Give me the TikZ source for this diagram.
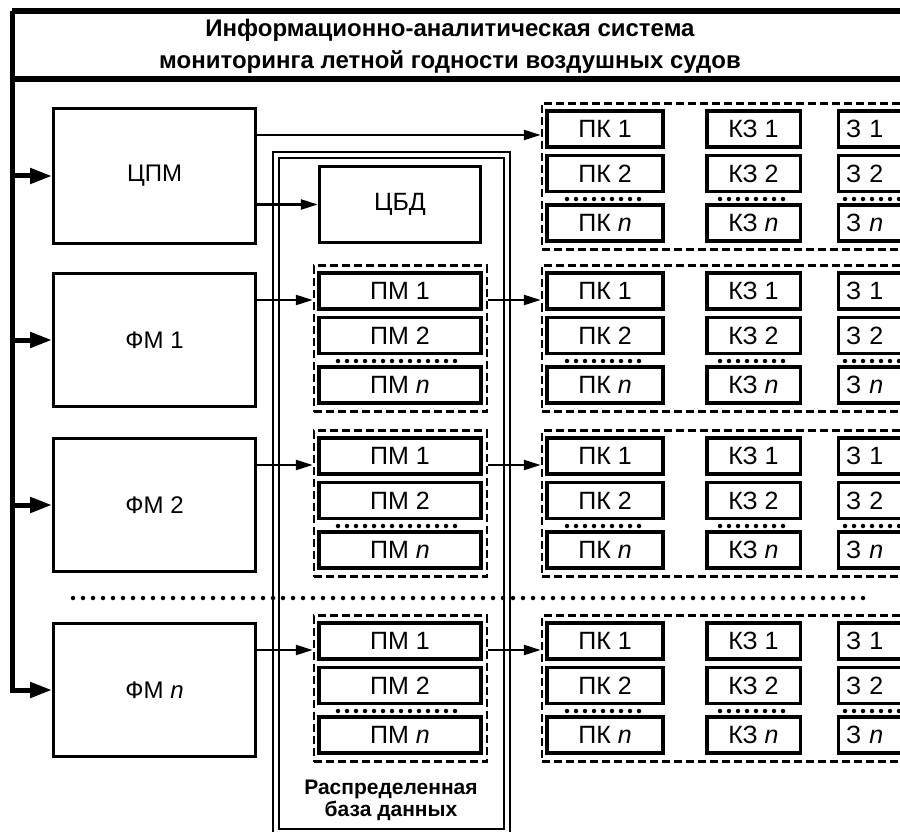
\documentclass[tikz,border=0pt]{standalone}
\usepackage{fontspec}
\setmainfont{Liberation Sans}
\usetikzlibrary{arrows.meta, positioning, calc}

\begin{document}
\begin{tikzpicture}[x=1pt, y=-1pt,
  module/.style={rectangle, draw, line width=3pt, minimum width=202pt, minimum height=133pt, font=\fontsize{24}{28}\selectfont},
  cell/.style={rectangle, draw, line width=3.5pt, minimum height=36pt, inner sep=0pt, font=\fontsize{25}{28}\selectfont},
  group/.style={rectangle, draw, dash pattern=on 8pt off 4pt, line width=2.5pt, minimum height=146pt, inner sep=0pt},
  dots/.style={line width=4.5pt, line cap=round, dash pattern=on 0pt off 9pt},
  arrow/.style={-{Triangle[length=17pt, width=10pt]}, line width=2.5pt},
  busarrow/.style={-{Triangle[length=22pt, width=15pt]}, line width=5pt},
  bus/.style={line width=6.5pt}
]
\useasboundingbox (0,0) rectangle (900,832);
\clip (0,0) rectangle (900,832);

% title and bus
\node[font=\bfseries\fontsize{24}{32}\selectfont, align=center] (title) at (450,46) {Информационно-аналитическая система\\мониторинга летной годности воздушных судов};
\coordinate (corner) at (12,11);
\draw[bus] (910,11) -- (corner);
\draw[bus] (910,79) -- (12,79);

% modules
\node[module, minimum height=134pt] (cpm) at (154.5,176) {ЦПМ};
\node[module] (fm1) at (154.5,340) {ФМ 1};
\node[module] (fm2) at (154.5,505) {ФМ 2};
\node[module] (fmn) at (154.5,690) {ФМ \textit{n}};

\draw[busarrow] (corner) -- (corner |- fmn) -- (fmn.west);
\draw[busarrow] (corner |- cpm) -- (cpm.west);
\draw[busarrow] (corner |- fm1) -- (fm1.west);
\draw[busarrow] (corner |- fm2) -- (fm2.west);

% distributed database
\node[draw, double, double distance=4pt, line width=2pt, minimum width=231pt, minimum height=677pt, inner sep=0pt] (db) at (391.5,493.5) {};
\node[font=\bfseries\fontsize{21}{22}\selectfont, align=center] (dblabel) at (391,800) {Распределенная\\база данных};
\node[cell, minimum width=161pt, minimum height=76pt] (cbd) at (400,204.5) {ЦБД};

\foreach \r/\b in {1/265, 2/430, 3/615} {
  \node[group, minimum width=173pt] (pmg\r) at (400.5,\b+73.5) {};
  \node[cell, minimum width=162pt] (pm1\r) at (400,\b+26) {ПМ 1};
  \node[cell, minimum width=162pt] (pm2\r) at (400,\b+70.5) {ПМ 2};
  \draw[dots] (338,\b+96) -- (463,\b+96);
  \node[cell, minimum width=162pt] (pmn\r) at (400,\b+120) {ПМ \textit{n}};
}

% control points, faults, tasks
\foreach \r/\b in {0/103, 1/265, 2/430, 3/615} {
  \node[group, minimum width=460pt] (kg\r) at (772,\b+73.5) {};
  \node[cell, minimum width=116pt] (pk1\r) at (605,\b+26) {ПК 1};
  \node[cell, minimum width=116pt] (pk2\r) at (605,\b+70.5) {ПК 2};
  \node[cell, minimum width=116pt] (pkn\r) at (605,\b+120) {ПК \textit{n}};
  \node[cell, minimum width=93.5pt] (kz1\r) at (753.5,\b+26) {КЗ 1};
  \node[cell, minimum width=93.5pt] (kz2\r) at (753.5,\b+70.5) {КЗ 2};
  \node[cell, minimum width=93.5pt] (kzn\r) at (753.5,\b+120) {КЗ \textit{n}};
  \node[cell, minimum width=103pt, text width=88pt] (z1\r) at (890,\b+26) {З 1};
  \node[cell, minimum width=103pt, text width=88pt] (z2\r) at (890,\b+70.5) {З 2};
  \node[cell, minimum width=103pt, text width=88pt] (zn\r) at (890,\b+120) {З \textit{n}};
  \draw[dots] (567,\b+96) -- (645,\b+96);
  \draw[dots] (720,\b+96) -- (785,\b+96);
  \draw[dots] (845,\b+96) -- (905,\b+96);
}

% connections
\coordinate (a0) at (0,135);
\coordinate (a1) at (0,300);
\coordinate (a2) at (0,465);
\coordinate (a3) at (0,650);
\draw[arrow] (cpm.east |- a0) -- (kg0.west |- a0);
\draw[arrow] (cpm.east |- cbd) -- (cbd.west);
\draw[arrow] (fm1.east |- a1) -- (pmg1.west |- a1);
\draw[arrow] (pmg1.east |- a1) -- (kg1.west |- a1);
\draw[arrow] (fm2.east |- a2) -- (pmg2.west |- a2);
\draw[arrow] (pmg2.east |- a2) -- (kg2.west |- a2);
\draw[arrow] (fmn.east |- a3) -- (pmg3.west |- a3);
\draw[arrow] (pmg3.east |- a3) -- (kg3.west |- a3);

\draw[dots, line width=4.5pt, dash pattern=on 0pt off 10pt] (73,598) -- (868,598);
\end{tikzpicture}
\end{document}
